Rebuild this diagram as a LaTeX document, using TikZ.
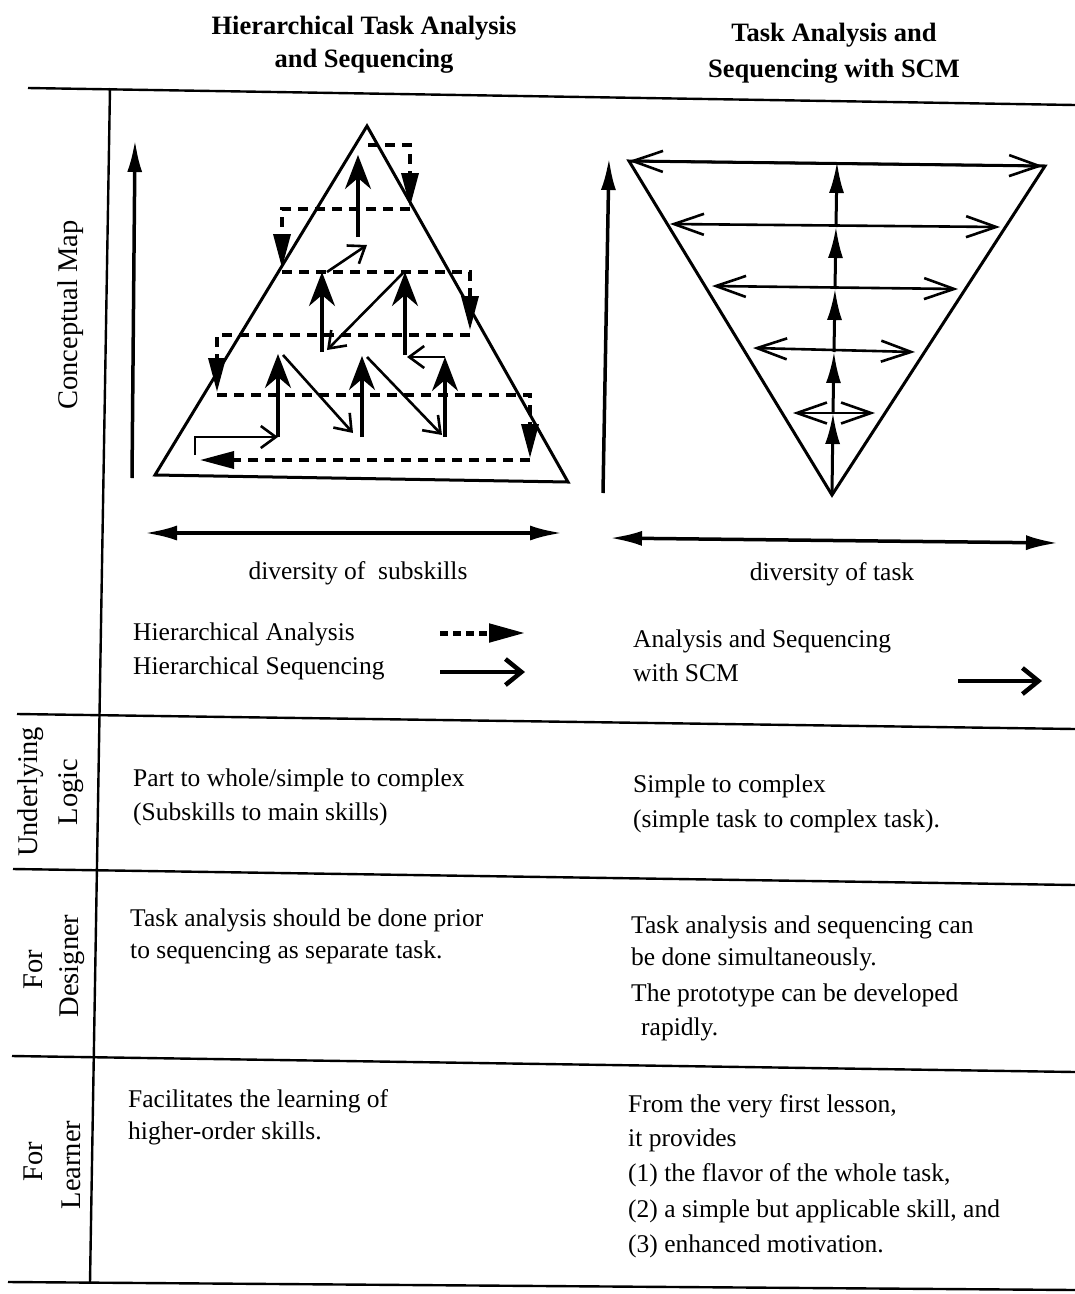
\documentclass[tikz,border=0pt]{standalone}
\usepackage{fontspec}
\setmainfont{Liberation Serif}
\usetikzlibrary{arrows.meta}

\begin{document}
\begin{tikzpicture}[x=1pt,y=-1pt,
  rule/.style={line width=2.4pt},
  body/.style={anchor=mid west, inner sep=0pt, font=\fontsize{25.5}{30}\selectfont},
  colhead/.style={anchor=mid, inner sep=0pt, font=\fontsize{26.5}{30}\selectfont\bfseries},
  rowlabel/.style={anchor=mid, inner sep=0pt, rotate=90, font=\fontsize{28.5}{30}\selectfont},
  side/.style={line width=3pt, line join=miter},
  axis/.style={line width=3.5pt, -{Latex[length=32pt,width=15pt]}},
  axisboth/.style={line width=3.5pt, {Latex[length=32pt,width=15pt]}-{Latex[length=32pt,width=15pt]}},
  anadash/.style={line width=3.5pt, dash pattern=on 10pt off 7pt, -{Triangle[length=34pt,width=17pt]}},
  sequp/.style={line width=3.5pt, -{Stealth[length=34pt,width=26pt,inset=11pt]}},
  seqthin/.style={line width=2.6pt, -{Straight Barb[length=15pt,width=22pt]}},
  spread/.style={line width=2.6pt, {Straight Barb[length=30pt,width=21pt]}-{Straight Barb[length=30pt,width=21pt]}},
  climb/.style={line width=3pt, -{Latex[length=31pt,width=15pt]}},
]
\useasboundingbox (0,0) rectangle (1075,1294);

% ---------- column headings ----------
\node[colhead] (h1a) at (364,32) {Hierarchical Task Analysis};
\node[colhead] (h1b) at (364,65) {and Sequencing};
\node[colhead] (h2a) at (834,39) {Task Analysis and};
\node[colhead] (h2b) at (834,75) {Sequencing with SCM};

% ---------- table rules ----------
\draw[rule] (28,88) -- (1075,105);
\draw[rule] (17,714) -- (1075,729);
\draw[rule] (13,869) -- (1075,885);
\draw[rule] (12,1056) -- (1075,1072);
\draw[rule] (8,1282) -- (1075,1290);
\draw[rule] (110,88) -- (90,1283);

% ---------- row labels ----------
\node[rowlabel] (rl1) at (75,315) {Conceptual Map};
\node[rowlabel] (rl2a) at (35,792) {Underlying};
\node[rowlabel] (rl2b) at (75,792) {Logic};
\node[rowlabel] (rl3a) at (40,970) {For};
\node[rowlabel] (rl3b) at (76,966) {Designer};
\node[rowlabel] (rl4a) at (40,1162) {For};
\node[rowlabel] (rl4b) at (78,1165) {Learner};

% ---------- hierarchical pyramid ----------
\coordinate (pa) at (367,126);
\coordinate (pl) at (155,475);
\coordinate (pr) at (568,482);
\draw[side] (pa) -- (pl) -- (pr) -- cycle;

\draw[axis] (132,478) -- (135,140);
\draw[axisboth] (145,533) -- (562,533);

% analysis (dashed, top-down)
\draw[anadash] (368,145) -- (410,145) -- (410,207);
\draw[anadash] (410,209) -- (282,209) -- (282,268);
\draw[anadash] (282,272) -- (470,272) -- (470,330);
\draw[anadash] (470,335) -- (217,335) -- (217,392);
\draw[anadash] (217,395) -- (530,395) -- (530,458);
\draw[anadash] (530,460) -- (200,460);

% sequencing (solid, bottom-up)
\draw[seqthin] (195,455) -- (195,437) -- (278,437);
\draw[sequp] (278,437) -- (278,354);
\draw[seqthin] (283,355) -- (353,433);
\draw[sequp] (362,437) -- (362,356);
\draw[seqthin] (367,357) -- (442,435);
\draw[sequp] (445,437) -- (445,357);
\draw[seqthin] (445,357) -- (407,357);
\draw[sequp] (405,355) -- (405,272);
\draw[seqthin] (403,273) -- (327,350);
\draw[sequp] (322,352) -- (322,272);
\draw[seqthin] (327,272) -- (367,245);
\draw[sequp] (358,237) -- (358,155);

\node[body, anchor=mid] (dv1) at (358,577) {diversity of\ \ subskills};

% ---------- SCM inverted pyramid ----------
\coordinate (ql) at (629,161);
\coordinate (qr) at (1045,166);
\coordinate (qb) at (832,495);
\draw[side] (ql) -- (qr) -- (qb) -- cycle;

\draw[axis] (603,493) -- (609,158);
\draw[axisboth] (610,538) -- (1058,543);

\draw[spread] (629,161) -- (1043,166);
\draw[spread] (670,224) -- (1000,227);
\draw[spread] (712,286) -- (958,289);
\draw[spread] (753,348) -- (915,352);
\draw[spread] (793,413) -- (875,413);

\coordinate (c0) at (832,495);
\coordinate (c1) at (833,413);
\coordinate (c2) at (834,352);
\coordinate (c3) at (835,289);
\coordinate (c4) at (836,227);
\coordinate (c5) at (837,162);
\draw[climb] (c0) -- (c1);
\draw[climb] (c1) -- (c2);
\draw[climb] (c2) -- (c3);
\draw[climb] (c3) -- (c4);
\draw[climb] (c4) -- (c5);

\node[body, anchor=mid] (dv2) at (832,578) {diversity of task};

% ---------- legends ----------
\node[body] (lg1) at (133,638) {Hierarchical Analysis};
\node[body] (lg2) at (133,672) {Hierarchical Sequencing};
\draw[line width=5pt, dash pattern=on 8pt off 5pt, -{Triangle[length=36pt,width=18pt]}] (440,633) -- (525,633);
\draw[line width=4.5pt, -{Straight Barb[length=16pt,width=26pt]}] (440,672) -- (525,672);

\node[body] (lg3) at (633,645) {Analysis and Sequencing};
\node[body] (lg4) at (633,679) {with SCM};
\draw[line width=4.5pt, -{Straight Barb[length=16pt,width=26pt]}] (958,681) -- (1042,681);

% ---------- underlying logic ----------
\node[body] (u1) at (133,784) {Part to whole/simple to complex};
\node[body] (u2) at (133,818) {(Subskills to main skills)};
\node[body] (u3) at (633,790) {Simple to complex};
\node[body] (u4) at (633,825) {(simple task to complex task).};

% ---------- for designer ----------
\node[body] (d1) at (130,924) {Task analysis should be done prior};
\node[body] (d2) at (130,956) {to sequencing as separate task.};
\node[body] (d3) at (631,931) {Task analysis and sequencing can};
\node[body] (d4) at (631,963) {be done simultaneously.};
\node[body] (d5) at (631,999) {The prototype can be developed};
\node[body] (d6) at (641,1033) {rapidly.};

% ---------- for learner ----------
\node[body] (l1) at (128,1105) {Facilitates the learning of};
\node[body] (l2) at (128,1137) {higher-order skills.};
\node[body] (l3) at (628,1110) {From the very first lesson,};
\node[body] (l4) at (628,1144) {it provides};
\node[body] (l5) at (628,1179) {(1) the flavor of the whole task,};
\node[body] (l6) at (628,1215) {(2) a simple but applicable skill, and};
\node[body] (l7) at (628,1250) {(3) enhanced motivation.};
\end{tikzpicture}
\end{document}
